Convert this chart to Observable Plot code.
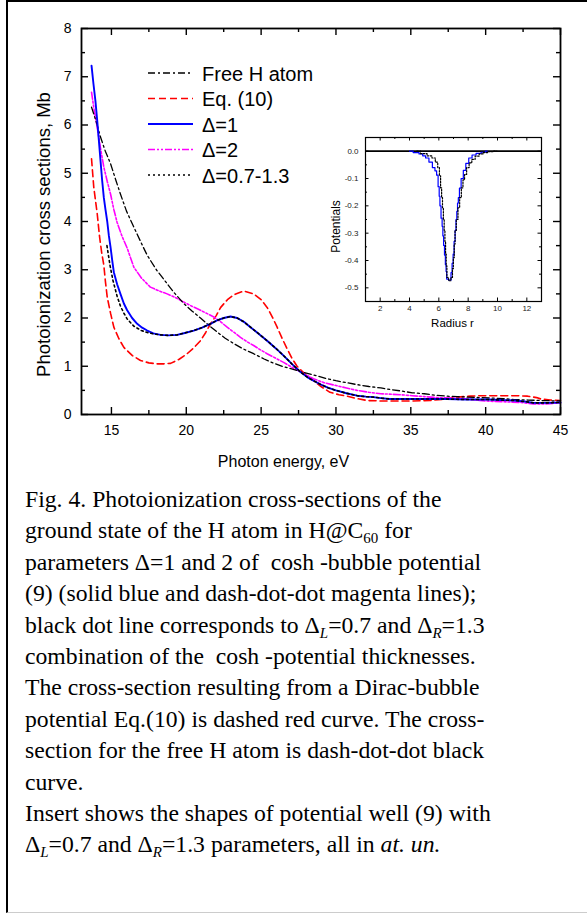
<!DOCTYPE html>
<html><head><meta charset="utf-8">
<script src="https://cdn.jsdelivr.net/npm/d3@7"></script>
<script src="https://cdn.jsdelivr.net/npm/@observablehq/plot@0.6"></script>
<style>
html,body{margin:0;padding:0;background:#fff;}
body{width:587px;height:913px;overflow:hidden;position:relative;font-family:"Liberation Sans",Arial,sans-serif;}
#border{position:absolute;left:6px;top:0;width:640px;height:910px;border-left:2px solid #000;border-top:2px solid #000;border-bottom:1px solid #ccc;}
#main{position:absolute;left:0;top:0;}
#inset{position:absolute;left:320px;top:125px;}
#legend{position:absolute;left:0;top:0;}
#caption{position:absolute;left:25px;top:484px;font-family:"Liberation Serif","Times New Roman",serif;font-size:23.7px;line-height:31.4px;white-space:nowrap;color:#000;}
.sb{font-size:15px;position:relative;top:5px;line-height:0;}
</style>
</head><body>
<div id="border"></div>
<div id="main"></div>
<div id="inset"></div>
<div id="legend"></div>
<div id="caption">
Fig. 4. Photoionization cross-sections of the<br>
ground state of the H atom in H@C<span class="sb">60</span> for<br>
parameters Δ=1 and 2 of&nbsp; cosh -bubble potential<br>
(9) (solid blue and dash-dot-dot magenta lines);<br>
black dot line corresponds to Δ<span class="sb"><i>L</i></span>=0.7 and Δ<span class="sb"><i>R</i></span>=1.3<br>
combination of the&nbsp; cosh -potential thicknesses.<br>
The cross-section resulting from a Dirac-bubble<br>
potential Eq.(10) is dashed red curve. The cross-<br>
section for the free H atom is dash-dot-dot black<br>
curve.<br>
Insert shows the shapes of potential well (9) with<br>
Δ<span class="sb"><i>L</i></span>=0.7 and Δ<span class="sb"><i>R</i></span>=1.3 parameters, all in <i>at. un.</i>
</div>
<script>
// ---------- main chart data ----------
const xTickLabels = [15, 20, 25, 30, 35, 40, 45];
const xMinorTicks = [17.5, 22.5, 27.5, 32.5, 37.5, 42.5];
const yTickLabels = [0, 1, 2, 3, 4, 5, 6, 7, 8];
const yMinorTicks = [0.5, 1.5, 2.5, 3.5, 4.5, 5.5, 6.5, 7.5];

const legendLabels = ["Free H atom", "Eq. (10)", "Δ=1", "Δ=2", "Δ=0.7-1.3"];

const freeE = [13.67,14.0,14.27,14.6,14.94,15.3,15.6,16.0,16.5,17.0,17.39,18.0,18.5,19.2,19.83,20.4,20.95,21.5,22.06,22.6,23.17,23.8,24.5,25.2,25.85,26.5,27.2,27.63,28.5,29.3,30.0,30.7,31.4,32.2,33.0,33.6,34.3,35.1,35.9,36.6,37.4,38.1,38.8,39.6,40.4,41.2,41.9,42.8,43.7,45.0];
const freeS = [6.37,6.05,5.75,5.45,5.2,4.85,4.57,4.22,3.88,3.55,3.3,3.0,2.8,2.52,2.3,2.14,2.0,1.85,1.71,1.58,1.47,1.36,1.26,1.15,1.06,0.99,0.93,0.89,0.82,0.75,0.70,0.66,0.62,0.58,0.55,0.52,0.49,0.45,0.43,0.40,0.38,0.37,0.36,0.35,0.34,0.33,0.31,0.30,0.29,0.28];

const eq10E = [13.67,13.82,13.95,14.05,14.2,14.35,14.49,14.6,14.72,14.94,15.16,15.5,15.83,16.4,16.94,17.5,18.06,18.5,18.95,19.5,20.06,20.5,20.95,21.3,21.62,22.0,22.3,22.75,23.17,23.84,24.5,25.0,25.4,25.75,26.07,26.4,26.74,27.05,27.4,27.9,28.5,29.0,29.6,30.2,30.75,31.4,32.08,33.0,34.0,35.0,36.3,37.3,38.1,39.0,39.7,41.0,42.0,42.8,43.4,43.7,44.3,45.0];
const eq10S = [5.3,4.71,4.4,4.16,3.7,3.35,3.1,2.75,2.43,2.1,1.81,1.57,1.39,1.22,1.12,1.07,1.05,1.05,1.06,1.14,1.26,1.38,1.53,1.7,1.88,2.05,2.22,2.38,2.48,2.56,2.5,2.38,2.22,2.02,1.81,1.58,1.36,1.17,1.0,0.85,0.70,0.58,0.46,0.41,0.38,0.33,0.29,0.28,0.28,0.28,0.29,0.32,0.36,0.38,0.39,0.39,0.39,0.38,0.35,0.32,0.30,0.29];

const d1E = [13.67,13.8,13.93,14.05,14.16,14.27,14.38,14.49,14.6,14.72,14.83,14.94,15.05,15.16,15.38,15.6,15.83,16.05,16.38,16.72,17.05,17.39,17.8,18.28,18.8,19.39,19.9,20.5,21.05,21.62,22.05,22.5,22.95,23.4,23.85,24.29,24.85,25.4,25.95,26.5,27.05,27.63,28.1,28.5,29.0,29.5,30.0,30.7,31.42,32.0,32.5,33.0,33.6,34.4,35.2,36.3,37.4,38.7,40.1,41.0,41.9,42.6,43.2,44.0,45.0];
const d1S = [7.23,6.85,6.5,6.09,5.68,5.26,4.85,4.5,4.25,4.0,3.7,3.47,3.2,2.95,2.7,2.5,2.3,2.16,2.0,1.88,1.8,1.74,1.68,1.65,1.64,1.65,1.69,1.74,1.8,1.88,1.95,2.0,2.03,2.0,1.92,1.81,1.67,1.53,1.38,1.22,1.05,0.88,0.77,0.70,0.62,0.55,0.50,0.44,0.39,0.37,0.36,0.34,0.32,0.32,0.32,0.32,0.32,0.31,0.31,0.30,0.29,0.27,0.24,0.24,0.25];

const d2E = [13.67,13.85,14.05,14.27,14.49,14.72,14.94,15.16,15.38,15.7,16.05,16.5,17.0,17.6,18.2,18.72,19.3,19.83,20.4,20.95,21.4,21.84,22.3,22.73,23.2,23.62,24.05,24.5,24.95,25.4,25.95,26.5,27.05,27.6,28.0,28.5,29.2,30.0,30.7,31.4,32.2,33.0,34.3,35.1,35.9,36.8,37.8,38.8,39.6,40.5,41.5,42.3,43.2,44.0,45.0];
const d2S = [6.68,6.3,5.95,5.52,5.13,4.83,4.57,4.25,3.98,3.7,3.45,3.05,2.83,2.64,2.56,2.5,2.42,2.33,2.24,2.16,2.09,2.02,1.92,1.81,1.7,1.6,1.51,1.43,1.34,1.26,1.17,1.08,0.98,0.89,0.82,0.74,0.66,0.60,0.55,0.50,0.46,0.43,0.41,0.39,0.37,0.35,0.34,0.32,0.29,0.27,0.26,0.25,0.22,0.22,0.24];

const d713E = [14.7,14.9,15.1,15.38,15.6,15.83,16.05,16.5,17.0,17.39,17.8,18.28,18.8,19.39,19.9,20.5,21.05,21.62,22.05,22.5,22.95,23.4,23.85,24.29,24.85,25.4,25.95,26.5,27.05,27.63,28.1,28.5,29.0,29.5,30.0,30.7,31.42,32.0,32.5,33.0,33.6,34.4,35.2,36.3,37.4,38.7,40.1,41.0,41.9,42.6,43.2,44.0,45.0];
const d713S = [3.5,3.1,2.78,2.45,2.25,2.1,1.98,1.83,1.74,1.70,1.67,1.65,1.64,1.65,1.69,1.74,1.8,1.88,1.95,2.0,2.03,2.0,1.92,1.81,1.67,1.53,1.38,1.22,1.05,0.88,0.77,0.70,0.62,0.55,0.50,0.44,0.39,0.37,0.36,0.34,0.32,0.32,0.32,0.32,0.32,0.31,0.31,0.30,0.29,0.27,0.24,0.24,0.25];

// ---------- inset data ----------
const insetXTicks = [2, 4, 6, 8, 10, 12];
const insetXMinor = [1, 3, 5, 7, 9, 11, 13];
const insetYTicks = [0, -0.1, -0.2, -0.3, -0.4, -0.5];
const insetYMinor = [-0.05, -0.15, -0.25, -0.35, -0.45];

const potBlueR = [4.0,4.5,4.8,5.0,5.2,5.45,5.67,5.8,5.9,6.0,6.05,6.1,6.2,6.25,6.3,6.35,6.42,6.47,6.52,6.55,6.8,6.86,6.95,7.0,7.08,7.14,7.2,7.25,7.3,7.36,7.45,7.59,7.75,7.93,8.15,8.38,8.7,9.06,9.3];
const potBlueV = [0,-0.005,-0.01,-0.017,-0.025,-0.04,-0.06,-0.072,-0.088,-0.13,-0.165,-0.2,-0.245,-0.275,-0.31,-0.345,-0.38,-0.415,-0.44,-0.468,-0.472,-0.444,-0.41,-0.377,-0.33,-0.29,-0.25,-0.22,-0.19,-0.17,-0.135,-0.1,-0.07,-0.045,-0.025,-0.014,-0.008,-0.004,0];
const potDotR = [4.5,5.0,5.4,5.67,5.85,6.0,6.08,6.16,6.22,6.28,6.34,6.39,6.44,6.48,6.53,6.57,6.75,6.9,6.96,7.02,7.08,7.13,7.25,7.36,7.48,7.59,7.7,7.81,7.98,8.15,8.35,8.6,8.9,9.17,9.5,9.96];
const potDotV = [0,-0.009,-0.017,-0.025,-0.04,-0.06,-0.09,-0.134,-0.17,-0.207,-0.25,-0.29,-0.33,-0.377,-0.42,-0.462,-0.474,-0.462,-0.43,-0.39,-0.34,-0.29,-0.25,-0.207,-0.17,-0.134,-0.105,-0.085,-0.06,-0.043,-0.03,-0.018,-0.01,-0.005,-0.002,0];

// ---------- styles ----------
const seriesStyle = [
  {stroke: "#000000", dash: "7,3,2,3", width: 1.3},
  {stroke: "#ff0000", dash: "7,4", width: 1.6},
  {stroke: "#0000ff", dash: null, width: 1.9},
  {stroke: "#ff00ff", dash: "7,2,2,2,2,2", width: 1.6},
  {stroke: "#000000", dash: "2,3", width: 1.6}
];
const seriesData = [[freeE, freeS], [eq10E, eq10S], [d1E, d1S], [d2E, d2S], [d713E, d713S]];
const drawOrder = [1, 3, 0, 2, 4];

const zip = (a, b) => a.map((v, i) => ({x: v, y: b[i]}));

const W = 587, H = 470, mL = 81, mT = 28, mR = 27, mB = 56;
const plotH = H - mT - mB, plotW = W - mL - mR;
const font = "'Liberation Sans', Arial, sans-serif";

const lineMarks = drawOrder.map(i => {
  const s = seriesStyle[i];
  return Plot.line(zip(seriesData[i][0], seriesData[i][1]), {
    x: "x", y: "y", stroke: s.stroke, strokeWidth: s.width,
    strokeDasharray: s.dash || undefined, curve: "linear"
  });
});

const tk = {stroke: "#000", strokeWidth: 1.4};
const main = Plot.plot({
  width: W, height: H,
  marginLeft: mL, marginTop: mT, marginRight: mR, marginBottom: mB,
  style: {fontFamily: font, fontSize: "14px", color: "#000", background: "transparent", overflow: "visible"},
  x: {domain: [13, 45], axis: null},
  y: {domain: [0, 8], axis: null},
  marks: [
    Plot.tickX(xTickLabels, {x: d => d, insetTop: plotH - 7, ...tk}),
    Plot.tickX(xTickLabels, {x: d => d, insetBottom: plotH - 7, ...tk}),
    Plot.tickX(xMinorTicks, {x: d => d, insetTop: plotH - 4, ...tk}),
    Plot.tickX(xMinorTicks, {x: d => d, insetBottom: plotH - 4, ...tk}),
    Plot.tickY(yTickLabels, {y: d => d, insetRight: plotW - 7, ...tk}),
    Plot.tickY(yTickLabels, {y: d => d, insetLeft: plotW - 7, ...tk}),
    Plot.tickY(yMinorTicks, {y: d => d, insetRight: plotW - 4, ...tk}),
    Plot.tickY(yMinorTicks, {y: d => d, insetLeft: plotW - 4, ...tk}),
    ...lineMarks,
    Plot.frame({stroke: "#000", strokeWidth: 1.8}),
    Plot.text(xTickLabels, {x: d => d, text: d => String(d), frameAnchor: "bottom", textAnchor: "middle", lineAnchor: "middle", dy: 16, fontSize: 14, fill: "#000"}),
    Plot.text(yTickLabels, {y: d => d, text: d => String(d), frameAnchor: "left", textAnchor: "end", lineAnchor: "middle", dx: -10, fontSize: 14, fill: "#000"}),
    Plot.text(["Photon energy, eV"], {text: d => d, frameAnchor: "bottom", textAnchor: "middle", lineAnchor: "middle", dx: -37.5, dy: 47, fontSize: 16}),
    Plot.text(["Photoionization cross sections, Mb"], {text: d => d, frameAnchor: "left", textAnchor: "middle", lineAnchor: "middle", rotate: -90, dx: -37, dy: 13, fontSize: 18.5})
  ]
});
document.getElementById("main").appendChild(main);

// ---------- inset ----------
const iW = 231, iH = 210, iL = 45, iT = 12, iR = 10, iB = 34;
const iPH = iH - iT - iB, iPW = iW - iL - iR;
const itk = {stroke: "#000", strokeWidth: 1};
const inset = Plot.plot({
  width: iW, height: iH,
  marginLeft: iL, marginTop: iT, marginRight: iR, marginBottom: iB,
  style: {fontFamily: font, fontSize: "8px", color: "#222", background: "transparent", overflow: "visible"},
  x: {domain: [1, 13], axis: null},
  y: {domain: [-0.55, 0.05], axis: null},
  marks: [
    Plot.tickX(insetXTicks, {x: d => d, insetTop: iPH - 3.5, ...itk}),
    Plot.tickX(insetXTicks, {x: d => d, insetBottom: iPH - 3.5, ...itk}),
    Plot.tickX(insetXMinor, {x: d => d, insetTop: iPH - 2, ...itk}),
    Plot.tickX(insetXMinor, {x: d => d, insetBottom: iPH - 2, ...itk}),
    Plot.tickY(insetYTicks, {y: d => d, insetRight: iPW - 3.5, ...itk}),
    Plot.tickY(insetYTicks, {y: d => d, insetLeft: iPW - 3.5, ...itk}),
    Plot.tickY(insetYMinor, {y: d => d, insetRight: iPW - 2, ...itk}),
    Plot.tickY(insetYMinor, {y: d => d, insetLeft: iPW - 2, ...itk}),
    Plot.ruleY([0], {stroke: "#000", strokeWidth: 1.6}),
    Plot.line(zip(potBlueR, potBlueV), {x: "x", y: "y", stroke: "#0000ff", strokeWidth: 1.2, curve: "step"}),
    Plot.line(zip(potDotR, potDotV), {x: "x", y: "y", stroke: "#000", strokeWidth: 1.2, strokeDasharray: "1.5,1.5", curve: "step"}),
    Plot.frame({stroke: "#000", strokeWidth: 1.2}),
    Plot.text(insetXTicks, {x: d => d, text: d => String(d), frameAnchor: "bottom", textAnchor: "middle", lineAnchor: "middle", dy: 7, fontSize: 8, fill: "#222"}),
    Plot.text(insetYTicks, {y: d => d, text: d => d.toFixed(1), frameAnchor: "left", textAnchor: "end", lineAnchor: "middle", dx: -7, fontSize: 8, fill: "#222"}),
    Plot.text(["Potentials"], {text: d => d, frameAnchor: "left", textAnchor: "middle", lineAnchor: "middle", rotate: -90, dx: -29, dy: 7, fontSize: 12, fill: "#000"}),
    Plot.text(["Radius r"], {text: d => d, frameAnchor: "bottom", textAnchor: "middle", lineAnchor: "middle", dx: -1, dy: 22, fontSize: 11.5, fill: "#000"})
  ]
});
document.getElementById("inset").appendChild(inset);

// ---------- legend ----------
const lg = d3.select("#legend").append("svg").attr("width", 587).attr("height", 200)
  .style("font-family", font);
legendLabels.forEach((lab, i) => {
  const s = seriesStyle[i];
  const y = 73 + 25.5 * i;
  lg.append("line").attr("x1", 148).attr("x2", 193).attr("y1", y).attr("y2", y)
    .attr("stroke", s.stroke).attr("stroke-width", s.width)
    .attr("stroke-dasharray", s.dash || null);
  lg.append("text").attr("x", 202).attr("y", y + 7.5).attr("font-size", 20)
    .attr("fill", "#000").text(lab);
});
</script>
</body></html>
